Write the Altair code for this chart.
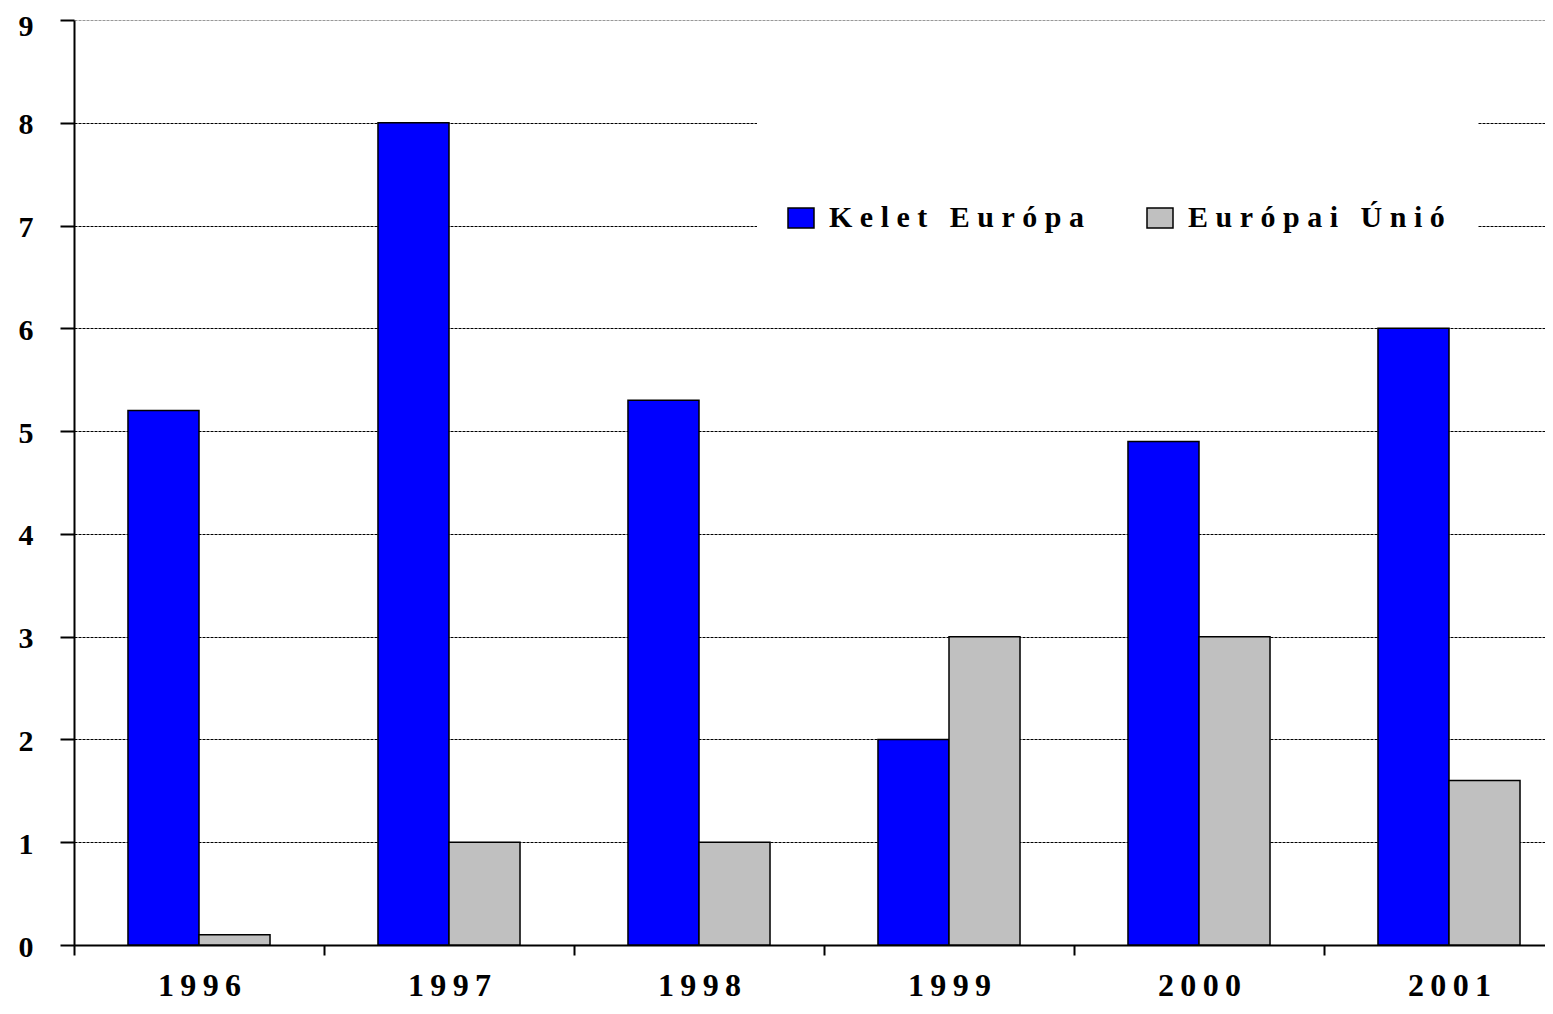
import altair as alt
import pandas as pd

years = ["1996", "1997", "1998", "1999", "2000", "2001"]
kelet_europa = [5.2, 8.0, 5.3, 2.0, 4.9, 6.0]
europai_unio = [0.1, 1.0, 1.0, 3.0, 3.0, 1.6]
series = ["Kelet Európa", "Európai Únió"]
colors = ["#0000FF", "#C0C0C0"]
y_ticks = [0, 1, 2, 3, 4, 5, 6, 7, 8, 9]

rows = []
for i, yr in enumerate(years):
    rows.append({"year": yr, "series": series[0], "value": kelet_europa[i]})
    rows.append({"year": yr, "series": series[1], "value": europai_unio[i]})
df = pd.DataFrame(rows)

FONT = "Liberation Serif"

x_scale = alt.Scale(domain=years, range=[0, 1500], paddingInner=0, paddingOuter=0)

bars = alt.Chart(df).mark_bar(stroke="black", strokeWidth=1.5).encode(
    x=alt.X(
        "year:N",
        sort=years,
        scale=x_scale,
        axis=alt.Axis(
            title=None,
            labelAngle=0,
            tickBand="extent",
            domainColor="black",
            domainWidth=2,
            tickColor="black",
            tickWidth=2,
            tickSize=10,
            labelFont=FONT,
            labelFontSize=32,
            labelFontWeight="bold",
            labelColor="black",
            labelPadding=15,
            labelExpr="join(split(datum.label, ''), '\u2009')",
            grid=False,
        ),
    ),
    xOffset=alt.XOffset(
        "series:N", sort=series, scale=alt.Scale(paddingInner=0, paddingOuter=0.76)
    ),
    y=alt.Y(
        "value:Q",
        scale=alt.Scale(domain=[0, 9], nice=False),
        axis=alt.Axis(
            title=None,
            values=y_ticks,
            domainColor="black",
            domainWidth=2,
            tickColor="black",
            tickWidth=2,
            tickSize=14,
            labelFont=FONT,
            labelFontSize=30,
            labelFontWeight="bold",
            labelColor="black",
            labelPadding=27,
            labelOffset={"condition": {"test": "datum.value == 9", "value": 6}, "value": 2},
            grid=True,
            gridColor={"condition": {"test": "datum.value == 9", "value": "#999999"}, "value": "#000000"},
            gridDash=[3, 1],
            gridWidth=1,
            gridOpacity=1,
        ),
    ),
    color=alt.Color(
        "series:N",
        sort=series,
        scale=alt.Scale(domain=series, range=colors),
        legend=alt.Legend(
            title=None,
            orient="none",
            legendX=712,
            legendY=183,
            direction="horizontal",
            symbolType="M-1,-0.77L1,-0.77L1,0.77L-1,0.77Z",
            symbolSize=676,
            symbolStrokeColor="black",
            symbolStrokeWidth=1.5,
            symbolOpacity=1,
            labelFont=FONT,
            labelFontSize=30,
            labelFontWeight="bold",
            labelColor="black",
            labelLimit=600,
            labelOffset=13,
            columnPadding=60,
            padding=0,
            labelExpr="join(split(datum.label, ''), '\u2005')",
        ),
    ),
)

box_df = pd.DataFrame({"k": [0]})
legend_box = alt.Chart(box_df).mark_rect(fill="white").encode(
    x=alt.value(683), x2=alt.value(1404), y=alt.value(98), y2=alt.value(306)
)

chart = (
    alt.layer(legend_box, bars)
    .properties(
        width=1471,
        height=925,
        padding={"left": 66, "top": 12, "right": 0, "bottom": 61},
        autosize=alt.AutoSizeParams(type="none"),
        background="white",
    )
    .configure_view(strokeWidth=0)
)

chart.save("out.html", embed_options={"renderer": "svg", "actions": False})
